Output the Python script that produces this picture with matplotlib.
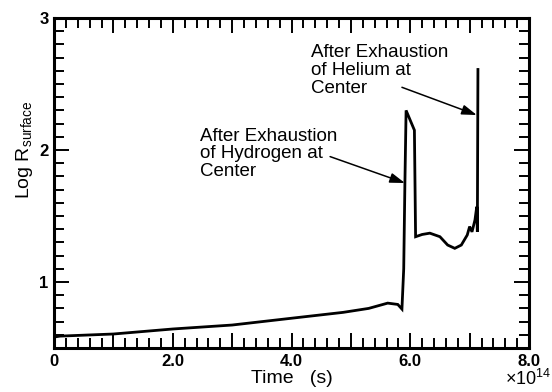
import numpy as np
import matplotlib
matplotlib.use("Agg")
import matplotlib.pyplot as plt
from matplotlib.ticker import MultipleLocator, FixedLocator, FuncFormatter

plt.rcParams['font.family'] = ['Liberation Sans', 'DejaVu Sans']

# surface radius of the star vs. time (time in units of 1e14 s)
time = [0.0, 0.10, 1.0, 2.0, 3.0, 4.03, 4.87, 5.30, 5.62, 5.79, 5.86,
        5.89, 5.91, 5.93, 6.07, 6.09, 6.20, 6.33, 6.50, 6.63, 6.75,
        6.86, 6.96, 7.00, 7.04, 7.09, 7.12, 7.13, 7.14]
log_r = [0.583, 0.59, 0.606, 0.644, 0.674, 0.727, 0.77, 0.80, 0.84, 0.83, 0.795,
         1.10, 1.75, 2.30, 2.15, 1.343, 1.36, 1.37, 1.343, 1.28, 1.255,
         1.28, 1.356, 1.42, 1.38, 1.47, 1.57, 1.38, 2.61]

x_ticklabels = ['0', '', '2.0', '', '4.0', '', '6.0', '', '8.0']

fig = plt.figure(figsize=(5.52, 3.92), dpi=100)
ax = fig.add_axes([54/552, 1-348/392, 475/552, 330/392])

ax.plot(time, log_r, color='black', lw=2.0, solid_joinstyle='miter')

ax.set_xlim(0, 8)
ax.set_ylim(0.5, 3)

ax.xaxis.set_major_locator(MultipleLocator(1.0))
ax.xaxis.set_minor_locator(MultipleLocator(0.2))
ax.xaxis.set_major_formatter(FuncFormatter(
    lambda v, p: x_ticklabels[int(round(v))] if 0 <= round(v) < len(x_ticklabels) else ''))
ax.yaxis.set_major_locator(FixedLocator([1, 2, 3]))
ax.yaxis.set_minor_locator(MultipleLocator(0.1))

ax.tick_params(which='both', direction='in', top=True, right=True, width=1.4, color='black')
ax.tick_params(which='major', length=11, labelsize=12, pad=4)
ax.tick_params(which='minor', length=7)
for lbl in ax.get_xticklabels() + ax.get_yticklabels():
    lbl.set_fontweight('bold')
for sp in ax.spines.values():
    sp.set_linewidth(2.2)

ax.set_xlabel('Time   (s)', fontsize=14, labelpad=1)
ax.set_ylabel(r'Log R$_{\mathregular{surface}}$', fontsize=14)
ax.yaxis.set_label_coords(-0.04, 0.6)
fig.text(551/552, 3/392, r'$\mathregular{\times10^{14}}$', fontsize=13,
         ha='right', va='bottom')

# labels for the two core-exhaustion events
ax.text(2.46, 2.17, 'After Exhaustion\nof Hydrogen at\nCenter', fontsize=13.5,
        ha='left', va='top', linespacing=1.05)
ax.text(4.33, 2.80, 'After Exhaustion\nof Helium at\nCenter', fontsize=13.5,
        ha='left', va='top', linespacing=1.05)

arrow = dict(arrowstyle='-|>,head_length=0.9,head_width=0.3', color='black', lw=1.1,
             shrinkA=0, shrinkB=0)
ax.annotate('', xy=(5.91, 1.75), xytext=(4.65, 1.95), arrowprops=arrow)
ax.annotate('', xy=(7.12, 2.265), xytext=(5.86, 2.475), arrowprops=arrow)

fig.savefig('out.png', dpi=100)
